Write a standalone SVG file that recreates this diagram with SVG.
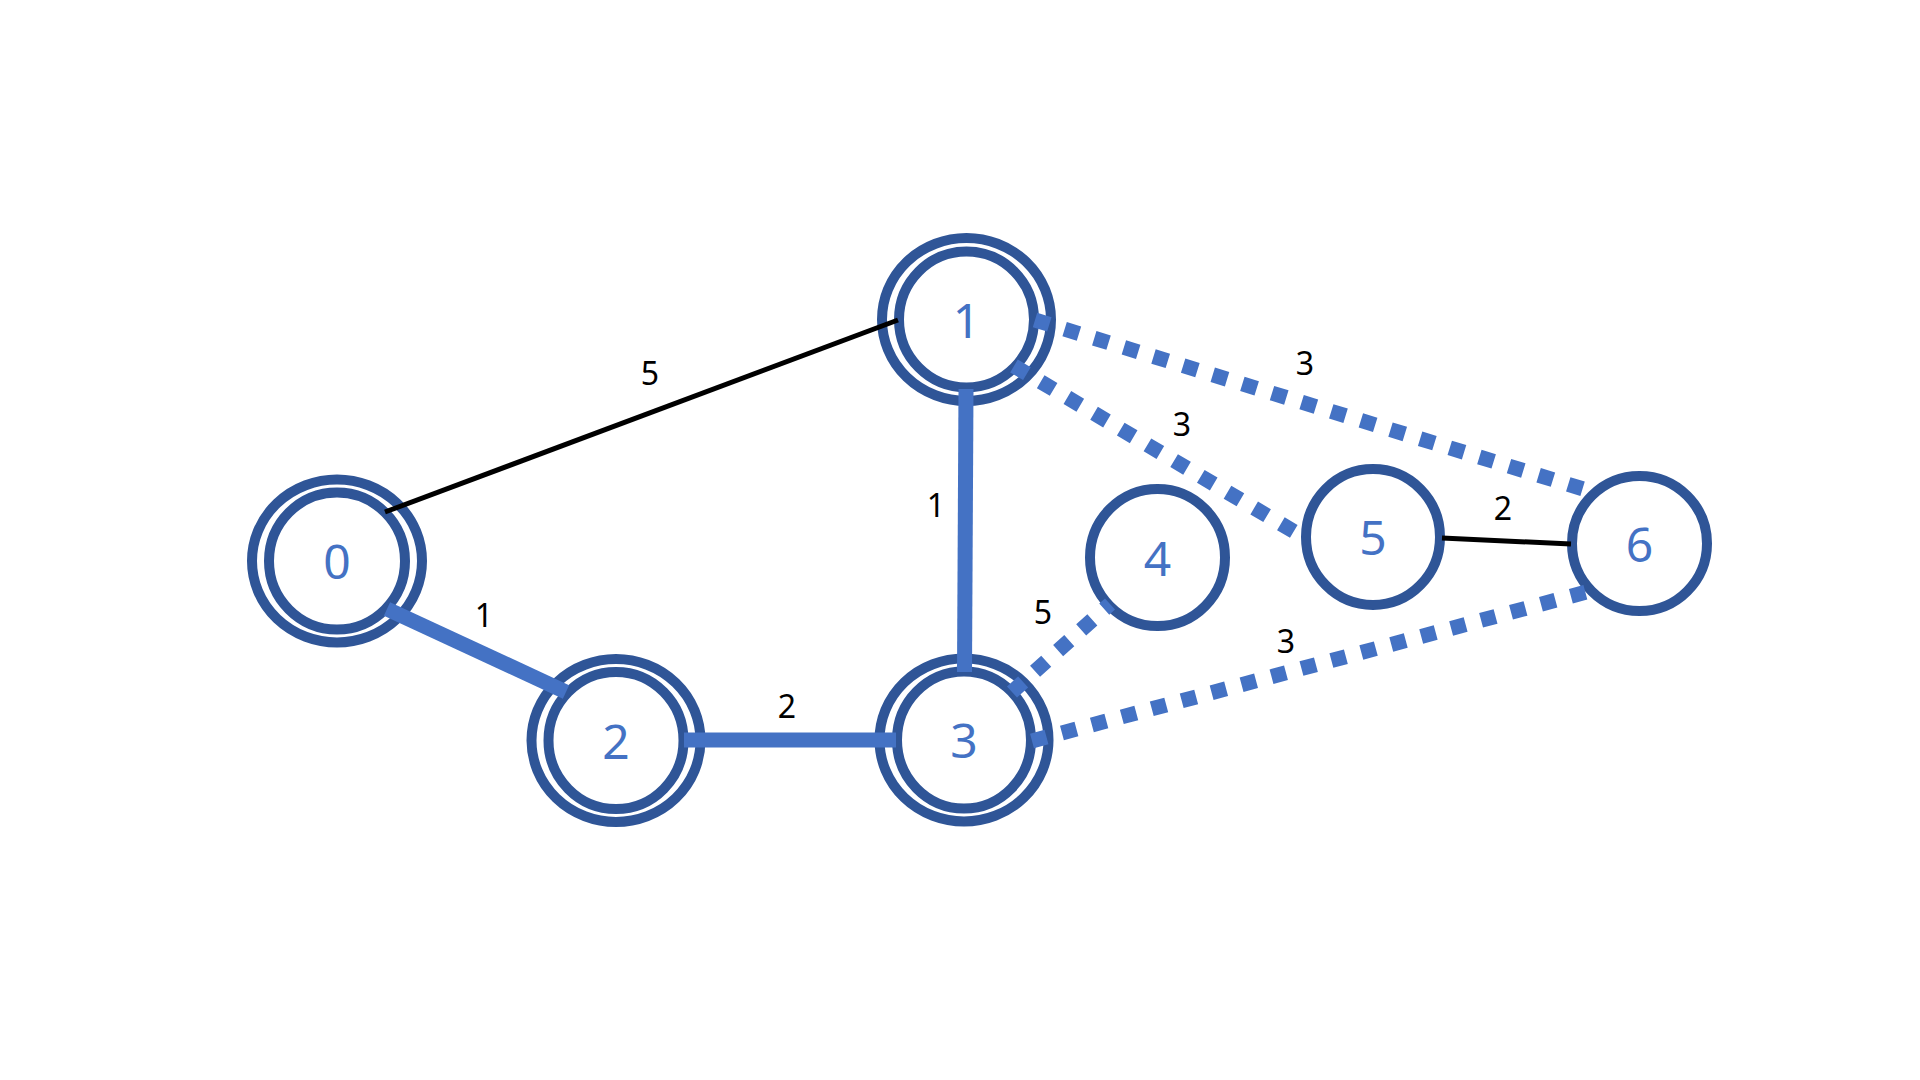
<svg xmlns="http://www.w3.org/2000/svg" width="1920" height="1080" viewBox="0 0 1920 1080">
  <style>
    .ring { fill: none; stroke: #2F5597; stroke-width: 10; }
    .core { fill: #FFFFFF; stroke: #2F5597; stroke-width: 10; }
    .nlabel { font-family: "Noto Sans", "Open Sans", "DejaVu Sans", sans-serif; font-size: 48px; fill: #4472C4; text-anchor: middle; }
    .elabel { font-family: "Noto Sans", "Open Sans", "DejaVu Sans", sans-serif; font-size: 32px; fill: #000000; text-anchor: middle; }
    .thin { stroke: #000000; stroke-width: 5; fill: none; }
    .thick { stroke: #4472C4; stroke-width: 15; fill: none; }
    .dotted { stroke: #4472C4; stroke-width: 15; stroke-dasharray: 15 16; fill: none; }
  </style>
  <rect width="1920" height="1080" fill="#FFFFFF"/>

  <g id="node-0">
    <ellipse class="ring" cx="337" cy="561" rx="85" ry="81.5"/>
    <ellipse class="core" cx="337" cy="561" rx="68" ry="68.5"/>
    <text class="nlabel" x="337" y="579">0</text>
  </g>
  <g id="node-1">
    <ellipse class="ring" cx="966.5" cy="319.5" rx="84.5" ry="81.5"/>
    <ellipse class="core" cx="966.5" cy="319.5" rx="67.5" ry="68"/>
    <text class="nlabel" x="966.5" y="337.5">1</text>
  </g>
  <g id="node-2">
    <ellipse class="ring" cx="616" cy="740.5" rx="84.5" ry="81.5"/>
    <ellipse class="core" cx="616" cy="740.5" rx="67.5" ry="68.5"/>
    <text class="nlabel" x="616" y="758.5">2</text>
  </g>
  <g id="node-3">
    <ellipse class="ring" cx="964" cy="740" rx="84.5" ry="81.5"/>
    <ellipse class="core" cx="964" cy="740" rx="67" ry="68.5"/>
    <text class="nlabel" x="964" y="758">3</text>
  </g>
  <g id="node-4">
    <ellipse class="core" cx="1157.5" cy="557.5" rx="67.5" ry="68.5"/>
    <text class="nlabel" x="1157.5" y="576">4</text>
  </g>
  <g id="node-5">
    <ellipse class="core" cx="1373" cy="537" rx="67" ry="68"/>
    <text class="nlabel" x="1373" y="555">5</text>
  </g>
  <g id="node-6">
    <ellipse class="core" cx="1639.5" cy="543.5" rx="67.5" ry="67.5"/>
    <text class="nlabel" x="1639.5" y="561.5">6</text>
  </g>

  <g id="connectors">
    <line class="thin" x1="385" y1="512" x2="898" y2="320"/>
    <line class="thick" x1="387" y1="609" x2="566" y2="692"/>
    <line class="thick" x1="684" y1="740" x2="896" y2="740"/>
    <line class="thick" x1="966" y1="389" x2="964.5" y2="672"/>
    <line class="dotted" x1="1035" y1="320" x2="1593" y2="492"/>
    <line class="dotted" x1="1014" y1="366" x2="1305" y2="538"/>
    <line class="dotted" x1="1012" y1="692" x2="1110" y2="604"/>
    <line class="dotted" x1="1032" y1="741" x2="1594" y2="590"/>
    <line class="thin" x1="1442" y1="538" x2="1571" y2="544"/>
  </g>

  <g id="edge-labels">
    <text class="elabel" x="650" y="385">5</text>
    <text class="elabel" x="484" y="627">1</text>
    <text class="elabel" x="787" y="718">2</text>
    <text class="elabel" x="936" y="517">1</text>
    <text class="elabel" x="1043" y="624">5</text>
    <text class="elabel" x="1182" y="436">3</text>
    <text class="elabel" x="1305" y="375">3</text>
    <text class="elabel" x="1503" y="520">2</text>
    <text class="elabel" x="1286" y="653">3</text>
  </g>
</svg>
